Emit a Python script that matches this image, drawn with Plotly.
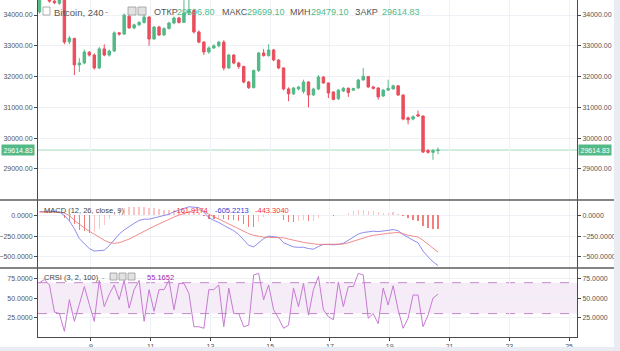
import plotly.graph_objects as go

# ---------------- data ----------------
start_day = 7.28          # first 4h bar (day of month)
bar_hours = 4

open_ = [34100, 34550, 34600, 34450, 34380, 34520, 33130, 33240, 32380, 32440,
         32790, 32700, 32280, 32900, 32700, 32830, 33420, 33380, 33960, 33580,
         33680, 33760, 33935, 33220, 33610, 33350, 33560, 33740, 33903, 33760,
         34065, 34150, 33450, 33120, 32800, 32930, 33000, 33120, 32280, 32700,
         32440, 32330, 31825, 31640, 32200, 32766, 32680, 32864, 32540, 32280,
         31600, 31440, 31600, 31520, 31825, 31402, 31597, 31987, 31792, 31500,
         31280, 31530, 31620, 31560, 31630, 31890, 32000, 31662, 31630, 31370,
         31560, 31600, 31700, 31400, 30660, 30620, 30760, 30720, 29600, 29540,
         29596.80]
high = [34650, 34700, 34650, 34500, 34560, 34560, 33320, 33260, 32600, 32880,
        32830, 32750, 32960, 33050, 32880, 33470, 33450, 34050, 34000, 33720,
        33800, 34000, 33960, 33640, 33650, 33600, 33780, 33950, 33940, 34480,
        34600, 34200, 33500, 33150, 32980, 33050, 33160, 33180, 32740, 32730,
        32480, 32350, 31860, 32230, 32800, 32900, 33050, 32900, 32560, 32300,
        31650, 31660, 31700, 31900, 31850, 31640, 32050, 32010, 31810, 31520,
        31600, 31660, 31650, 31640, 31920, 32280, 32020, 31700, 31650, 31600,
        31900, 31740, 31720, 31420, 30700, 30740, 30900, 30740, 29640, 29650,
        29699.10]
low = [34050, 34500, 34400, 34350, 34330, 33050, 33050, 32050, 32150, 32400,
       32650, 32230, 32250, 32660, 32650, 32800, 33330, 33350, 33550, 33540,
       33640, 33720, 33000, 33200, 33320, 33330, 33530, 33700, 33720, 33740,
       34000, 33400, 33080, 32700, 32740, 32900, 32950, 32200, 32250, 32400,
       32250, 31780, 31600, 31620, 32150, 32650, 32650, 32500, 32240, 31550,
       31200, 31400, 31550, 31450, 31000, 31380, 31560, 31770, 31300, 31230,
       31240, 31500, 31340, 31540, 31600, 31870, 31640, 31580, 31250, 31340,
       31540, 31580, 31380, 30580, 30450, 30580, 30700, 29520, 29500, 29300,
       29479.10]
close = [34550, 34620, 34450, 34400, 34520, 33120, 33250, 32380, 32440, 32800,
         32700, 32280, 32900, 32700, 32830, 33420, 33380, 34000, 33580, 33680,
         33760, 33935, 33220, 33610, 33350, 33560, 33740, 33903, 33760, 34065,
         34150, 33450, 33120, 32800, 32930, 33000, 33120, 32280, 32700, 32440,
         32330, 31825, 31640, 32200, 32766, 32680, 32864, 32540, 32280, 31600,
         31440, 31630, 31660, 31825, 31402, 31597, 31987, 31792, 31467, 31260,
         31560, 31620, 31480, 31610, 31890, 32010, 31662, 31620, 31340, 31560,
         31620, 31700, 31400, 30620, 30600, 30700, 30720, 29550, 29540, 29600,
         29614.83]

macd = [45, 50, 52, 50, 40, 0, -65, -160, -280, -340,
        -400, -430, -425, -420, -365, -300, -225, -175, -130, -95,
        -60, -45, -45, -30, -20, -5, 15, 45, 65, 85,
        105, 100, 95, 40, -25, -60, -85, -120, -150, -185,
        -230, -290, -360, -380, -330, -280, -250, -255, -265, -330,
        -360, -380, -385, -385, -400, -408, -375, -350, -350, -355,
        -350, -335, -300, -260, -225, -206, -195, -190, -195, -190,
        -180, -170, -185, -230, -270, -300, -330, -430, -500, -560,
        -605.2213]
signal = [40, 42, 45, 45, 40, 30, 0, -60, -110, -150,
          -190, -230, -265, -300, -325, -337, -330, -310, -285, -255,
          -220, -190, -160, -130, -100, -75, -50, -20, 5, 25,
          45, 60, 68, 50, 15, -15, -45, -80, -100, -130,
          -160, -190, -220, -240, -255, -262, -265, -265, -265, -270,
          -285, -300, -315, -325, -335, -345, -350, -350, -350, -350,
          -350, -345, -330, -310, -290, -270, -255, -240, -235, -225,
          -215, -208, -206, -220, -240, -250, -260, -300, -350, -400,
          -443.3040]
hist = [5, 8, 7, 5, 0, -30, -65, -100, -170, -190,
        -210, -200, -160, -120, -40, 37, 80, 95, 100, 105,
        105, 100, 90, 85, 80, 70, 65, 65, 60, 60,
        60, 40, 27, -10, -40, -45, -40, -40, -50, -55,
        -70, -100, -140, -140, -75, -18, 15, 10, 0, -60,
        -75, -80, -70, -60, -65, -63, -25, 0, 0, -5,
        0, 10, 30, 50, 65, 64, 60, 50, 40, 35,
        35, 38, 21, -10, -30, -50, -70, -130, -150, -160,
        -161.9174]
crsi = [70, 74, 67, 32, 30, 7, 48, 20, 42, 65,
        42, 20, 73, 39, 55, 67, 48, 73, 37, 61,
        73, 20, 61, 33, 61, 61, 73, 35, 69, 69,
        56, 13, 13, 11, 61, 61, 67, 13, 63, 30,
        30, 13, 15, 80, 82, 48, 67, 35, 24, 11,
        15, 63, 39, 69, 28, 61, 78, 35, 26, 22,
        71, 39, 65, 65, 82, 80, 24, 30, 17, 63,
        41, 66, 35, 11, 24, 54, 54, 13, 28, 50,
        55.1652]

x_ticks = [9, 11, 13, 15, 17, 19, 21, 23, 25]
price_ticks = [29000, 30000, 31000, 32000, 33000, 34000]
macd_ticks = [0, -250, -500]
crsi_ticks = [25, 50, 75]
band_low, band_high = 30, 70
last_price = close[-1]

hdr_labels = ["ОТКР", "МАКС", "МИН", "ЗАКР"]
hdr_values = ["29596.80", "29699.10", "29479.10", "29614.83"]

# ---------------- geometry helpers ----------------
W, H = 620, 351
ML, MR, MT, MB = 38, 43, 0, 14
PW, PH = W - ML - MR, H - MT - MB


def px(x):
    return (x - ML) / PW


def py(y):
    return (PH - (y - MT)) / PH


t = [start_day + i * bar_hours / 24 for i in range(len(close))]

UP, DN = "#53b987", "#eb4d5c"
AX = "#4a4a4a"
GRID = "#eef1f6"
FONT = "Liberation Sans, Arial, sans-serif"

fig = go.Figure()

fig.add_trace(go.Candlestick(
    x=t, open=open_, high=high, low=low, close=close,
    increasing=dict(line=dict(color=UP, width=1), fillcolor=UP),
    decreasing=dict(line=dict(color=DN, width=1), fillcolor=DN),
    whiskerwidth=0, xaxis="x", yaxis="y", showlegend=False, hoverinfo="skip"))
fig.add_trace(go.Scatter(x=[None], y=[None], xaxis="x", yaxis="y4", showlegend=False))

# MACD
hcols = []
for i, v in enumerate(hist):
    prev = hist[i - 1] if i > 0 else v
    if v < 0 and v <= prev:
        hcols.append("rgba(239,83,80,0.75)")
    else:
        hcols.append("rgba(245,150,150,0.55)")
fig.add_trace(go.Bar(x=t, y=hist, width=0.045, marker=dict(color=hcols, line=dict(width=0)),
                     xaxis="x2", yaxis="y2", showlegend=False, hoverinfo="skip"))
fig.add_trace(go.Scatter(x=t, y=macd, mode="lines", line=dict(color="rgba(120,120,235,0.85)", width=1),
                         xaxis="x2", yaxis="y2", showlegend=False, hoverinfo="skip"))
fig.add_trace(go.Scatter(x=t, y=signal, mode="lines", line=dict(color="rgba(240,120,120,0.85)", width=1),
                         xaxis="x2", yaxis="y2", showlegend=False, hoverinfo="skip"))
fig.add_trace(go.Scatter(x=[None], y=[None], xaxis="x2", yaxis="y5", showlegend=False))

# CRSI
fig.add_trace(go.Scatter(x=t, y=crsi, mode="lines", line=dict(color="#c67ad2", width=1),
                         xaxis="x3", yaxis="y3", showlegend=False, hoverinfo="skip"))
fig.add_trace(go.Scatter(x=[None], y=[None], xaxis="x3", yaxis="y6", showlegend=False))

xr = [7.23, 25.265]
d_main = [py(200), 1]
d_macd = [py(268), py(200)]
d_crsi = [0, py(268)]

tickfont = dict(family=FONT, size=7, color="#555")


def xax(show_labels, anchor):
    return dict(range=xr, tickvals=x_ticks, ticktext=[str(v) for v in x_ticks],
                showticklabels=show_labels, showgrid=True, gridcolor=GRID, gridwidth=1,
                zeroline=False, anchor=anchor, tickfont=tickfont,
                showline=show_labels, linecolor=AX, linewidth=1,
                ticks="outside" if show_labels else "", ticklen=3, tickcolor=AX,
                rangeslider=dict(visible=False), fixedrange=True)


def yax(domain, rng, tv, fmt, side, anchor, overlay=None, grid=True):
    d = dict(range=rng, tickvals=tv, tickformat=fmt, side=side, anchor=anchor,
             showgrid=grid, gridcolor=GRID, zeroline=False, tickfont=tickfont,
             showline=True, linecolor=AX, linewidth=1, ticks="outside", ticklen=3,
             tickcolor=AX, fixedrange=True)
    if overlay:
        d["overlaying"] = overlay
    else:
        d["domain"] = domain
    return d


main_rng = [27993, 34487]
macd_rng = [-635, 187]
crsi_rng = [-0.3, 89]

fig.update_layout(
    width=W, height=H, margin=dict(l=ML, r=MR, t=MT, b=MB, pad=0),
    paper_bgcolor="white", plot_bgcolor="white", bargap=0,
    font=dict(family=FONT, color=AX),
    xaxis=xax(False, "y"), xaxis2=xax(False, "y2"), xaxis3=xax(True, "y3"),
    yaxis=yax(d_main, main_rng, price_ticks, ".2f", "left", "x"),
    yaxis4=yax(None, main_rng, price_ticks, ".2f", "right", "x", overlay="y", grid=False),
    yaxis2=yax(d_macd, macd_rng, macd_ticks, ".4f", "left", "x2"),
    yaxis5=yax(None, macd_rng, macd_ticks, ".4f", "right", "x2", overlay="y2", grid=False),
    yaxis3=yax(d_crsi, crsi_rng, crsi_ticks, ".4f", "left", "x3"),
    yaxis6=yax(None, crsi_rng, crsi_ticks, ".4f", "right", "x3", overlay="y3", grid=False),
)
fig.update_xaxes(matches="x")

shapes = []
# CRSI band and dashed bounds
shapes.append(dict(type="rect", xref="x3", yref="y3", x0=xr[0], x1=xr[1], y0=band_low, y1=band_high,
                   fillcolor="rgba(156,39,176,0.09)", line=dict(width=0), layer="below"))
for lv in (band_low, band_high):
    shapes.append(dict(type="line", xref="x3", yref="y3", x0=xr[0], x1=xr[1], y0=lv, y1=lv,
                       line=dict(color="rgba(180,110,190,0.8)", width=1, dash="dash"), layer="below"))
# last price line
shapes.append(dict(type="line", xref="paper", yref="y", x0=0, x1=1, y0=last_price, y1=last_price,
                   line=dict(color="rgba(83,185,135,0.55)", width=1), layer="below"))
# pane separators
for yy in (200, 268):
    shapes.append(dict(type="line", xref="paper", yref="paper", x0=px(0), x1=px(614), y0=py(yy), y1=py(yy),
                       line=dict(color="#5d5d5d", width=1.5)))
# grey strips (right and bottom)
shapes.append(dict(type="rect", xref="paper", yref="paper", x0=px(614), x1=px(621), y0=py(352), y1=py(-1),
                   fillcolor="#e9edf3", line=dict(width=0)))
shapes.append(dict(type="rect", xref="paper", yref="paper", x0=px(-1), x1=px(621), y0=py(352), y1=py(347),
                   fillcolor="#e9edf3", line=dict(width=0)))
# small header/legend icons
icon_boxes = [(43, 7, 50, 15, "white"), (128, 7, 136, 15, "#e2e2e2"), (138, 7, 146, 15, "#e2e2e2"),
              (110, 273, 117, 280, "#e2e2e2"), (119, 273, 126, 280, "#e2e2e2"), (128, 273, 135, 280, "#e2e2e2")]
for x0, y0, x1, y1, fc in icon_boxes:
    shapes.append(dict(type="rect", xref="paper", yref="paper", x0=px(x0), x1=px(x1), y0=py(y1), y1=py(y0),
                       fillcolor=fc, line=dict(color="#9a9a9a", width=0.8)))
fig.update_layout(shapes=shapes)

ann = []


def txt(x, y, s, color=AX, size=9):
    ann.append(dict(xref="paper", yref="paper", x=px(x), y=py(y), text=s, showarrow=False,
                    xanchor="left", yanchor="middle", font=dict(family=FONT, size=size, color=color)))


txt(52, 12, "Bitcoin, 240", "#555", 9.5)
txt(103, 12, "-", "#888", 9)
hx = [(152, 175), (220, 245), (288, 309), (353, 380)]
for (lx, vx), lab, val in zip(hx, hdr_labels, hdr_values):
    txt(lx, 12, lab, "#555", 9)
    txt(vx, 12, val, UP, 9)

txt(42, 210, "MACD (12, 26, close, 9)", "#444", 7.5)
txt(172, 210, "%.4f" % hist[-1], "#f23645", 7.5)
txt(213, 210, "%.4f" % macd[-1], "#2f3fd6", 7.5)
txt(253, 210, "%.4f" % signal[-1], "#f23645", 7.5)

txt(42, 277, "CRSI (3, 2, 100)", "#444", 7.5)
txt(100, 277, "-", "#888", 7.5)
txt(145, 277, "%.4f" % crsi[-1], "#9c27b0", 7.5)

# price labels on both axes
for xpos in (px(0.5), px(578)):
    ann.append(dict(xref="paper", yref="y", x=xpos, y=last_price, text="%.2f" % last_price,
                    showarrow=False, xanchor="left", yanchor="middle", bgcolor=UP, borderpad=1.5,
                    font=dict(family=FONT, size=7, color="white")))
fig.update_layout(annotations=ann)

fig.write_html("out.html")
